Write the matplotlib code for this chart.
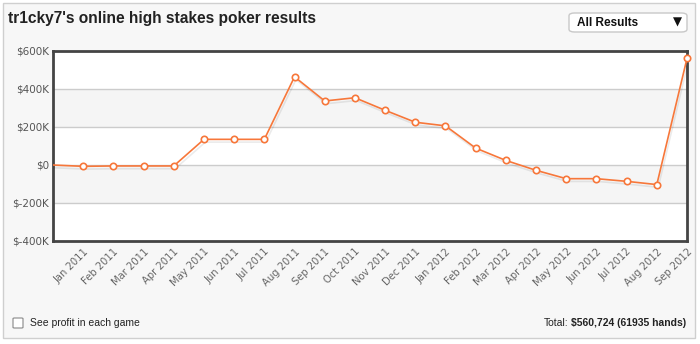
import matplotlib
matplotlib.use("Agg")
import matplotlib.pyplot as plt
import matplotlib.patheffects as pe
from matplotlib.patches import FancyBboxPatch, Rectangle

months = ["Jan 2011", "Feb 2011", "Mar 2011", "Apr 2011", "May 2011", "Jun 2011",
          "Jul 2011", "Aug 2011", "Sep 2011", "Oct 2011", "Nov 2011", "Dec 2011",
          "Jan 2012", "Feb 2012", "Mar 2012", "Apr 2012", "May 2012", "Jun 2012",
          "Jul 2012", "Aug 2012", "Sep 2012"]
profit_k = [-7, -5, -5, -5, 135, 135, 135, 464, 337, 354, 288, 225,
            206, 89, 24, -28, -72, -72, -86, -103, 561]
start_k = 0
yticks_k = [-400, -200, 0, 200, 400, 600]
ytick_labels = ["$-400K", "$-200K", "$0", "$200K", "$400K", "$600K"]

W, H = 700, 344
fig = plt.figure(figsize=(7, 3.44), dpi=100)
fig.patch.set_facecolor("white")

# outer panel
panel = Rectangle((3 / W, 1 - 338 / H), (695 - 3) / W, (338 - 3) / H,
                  transform=fig.transFigure, facecolor="#f7f7f7",
                  edgecolor="#cfcfcf", linewidth=1, zorder=-5)
fig.patches.append(panel)

ax = fig.add_axes([53 / W, 1 - 241 / H, (687 - 53) / W, (241 - 51) / H])
ax.set_zorder(1)
ax.set_facecolor("white")

# alternating bands
for lo, hi in [(200, 400), (-200, 0)]:
    ax.axhspan(lo, hi, facecolor="#f5f5f5", edgecolor="none", zorder=0)
for y in yticks_k[1:-1]:
    ax.axhline(y, color="#cccccc", linewidth=1, zorder=1)

xs = list(range(-1, len(months)))
ys = [start_k] + profit_k
ax.plot(xs, ys, color="#f7773a", linewidth=1.2, zorder=3,
        solid_joinstyle="round",
        path_effects=[pe.SimpleLineShadow(offset=(1, -2), alpha=0.08, shadow_color="black"),
                      pe.Normal()])
ax.plot(range(len(months)), profit_k, linestyle="none", marker="o",
        markersize=4.6, markerfacecolor="white", markeredgecolor="#f7773a",
        markeredgewidth=1.2, zorder=4, clip_on=False)

ax.set_xlim(-1, len(months) - 1)
ax.set_ylim(-400, 600)
ax.set_yticks(yticks_k)
ax.set_yticklabels(ytick_labels)
ax.set_xticks(range(len(months)))
ax.set_xticklabels(months, rotation=45, ha="right", rotation_mode="anchor")
ax.tick_params(axis="both", length=0, labelsize=7.5, colors="#555555")
ax.tick_params(axis="x", labelsize=7.2, colors="#666666")
ax.tick_params(axis="y", pad=3)
ax.tick_params(axis="x", pad=4)
for s in ax.spines.values():
    s.set_color("#444444")
    s.set_linewidth(2)

# title
fig.text(8 / W, 1 - 18 / H, "tr1cky7's online high stakes poker results",
         fontsize=11.2, fontweight="bold", color="#222222",
         family="Liberation Sans", va="center", ha="left")

# dropdown
dd = FancyBboxPatch((569 / W, 1 - 32 / H), (687 - 569) / W, (32 - 13) / H,
                    boxstyle="round,pad=0,rounding_size=0.008",
                    transform=fig.transFigure, facecolor="white",
                    edgecolor="#c8c8c8", linewidth=1)
fig.patches.append(dd)
fig.text(577 / W, 1 - 22.5 / H, "All Results", fontsize=8.5, fontweight="bold",
         family="Liberation Sans", color="#111111", va="center", ha="left")
fig.text(682 / W, 1 - 22.5 / H, "▼", fontsize=8.5, color="#111111",
         family="DejaVu Sans", va="center", ha="right")

# checkbox
cb = FancyBboxPatch((13 / W, 1 - 328 / H), 10 / W, 10 / H,
                    boxstyle="round,pad=0,rounding_size=0.002",
                    transform=fig.transFigure, facecolor="white",
                    edgecolor="#888888", linewidth=0.8)
fig.patches.append(cb)
fig.text(30 / W, 1 - 322.5 / H, "See profit in each game", fontsize=7.5,
         family="Liberation Sans", color="#222222", va="center", ha="left")

# total
t2 = fig.text(686 / W, 1 - 322.5 / H, "$560,724 (61935 hands)", fontsize=7.5,
              fontweight="bold", family="Liberation Sans", color="#222222",
              va="center", ha="right")
fig.canvas.draw()
bb = t2.get_window_extent()
fig.text((bb.x0 - 2) / W, 1 - 322.5 / H, "Total:", fontsize=7.5,
         family="Liberation Sans", color="#222222", va="center", ha="right")

fig.savefig("out.png", dpi=100, facecolor=fig.get_facecolor())
